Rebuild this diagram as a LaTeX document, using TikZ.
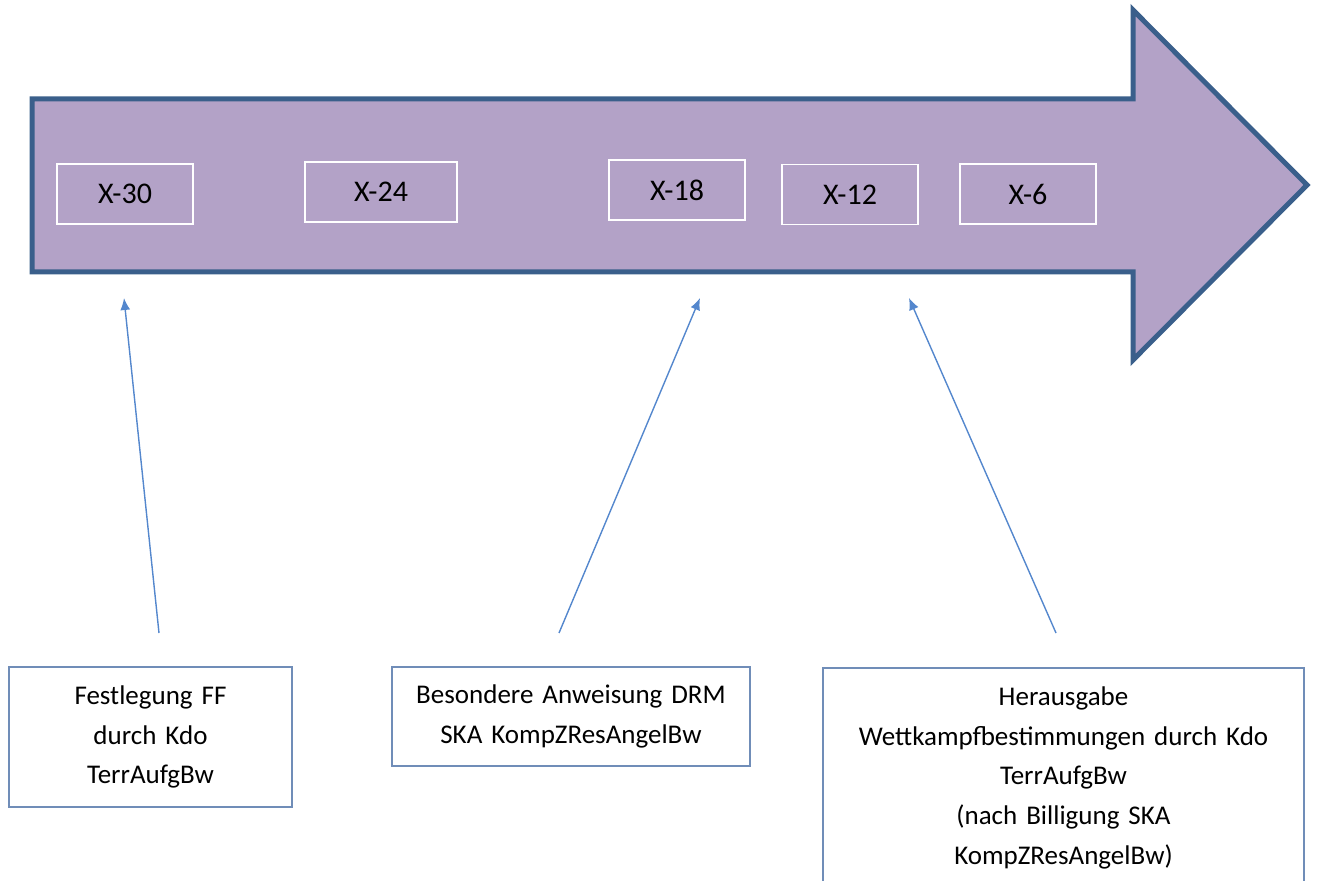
\documentclass[tikz,border=0pt]{standalone}
\usepackage{fontspec}
\setmainfont{Carlito}
\usepackage{tikz}
\usetikzlibrary{shapes,arrows,arrows.meta,positioning}

\definecolor{arrowfill}{RGB}{179,162,199}
\definecolor{arrowedge}{RGB}{58,95,139}
\definecolor{boxedge}{RGB}{112,141,184}
\definecolor{lineblue}{RGB}{84,135,205}

\begin{document}
\begin{tikzpicture}[x=0.5pt, y=-0.5pt]
    % Define block styles
    \tikzstyle{stage} = [rectangle, draw=white, line width=0.9pt, minimum width=68pt, minimum height=30pt, inner sep=0pt, font=\fontsize{15}{18}\selectfont]
    \tikzstyle{note} = [rectangle, draw=boxedge, line width=0.8pt, text centered, inner sep=0pt, font=\fontsize{13.5}{19.8}\selectfont]
    \tikzstyle{line} = [draw=lineblue, line width=0.7pt, -{Latex[length=6pt, width=5pt]}]

    \useasboundingbox (0,0) rectangle (1317,881);

    % Timeline arrow
    \draw [fill=arrowfill, draw=arrowedge, line width=2.5pt, line join=miter]
        (32,99) -- (1133,99) -- (1133,10) -- (1307,185) -- (1133,360) -- (1133,272) -- (32,272) -- cycle;

    % Nodes
    \node [stage] (X30) at (125,194) {X-30};
    \node [stage, minimum width=76pt] (X24) at (381,192) {X-24};
    \node [stage] (X18) at (677,190) {X-18};
    \node [stage] (X12) at (850,194.5) {X-12};
    \node [stage] (X6) at (1028,194) {X-6};

    \node [note, minimum width=141.5pt, minimum height=70pt, text width=140pt] (Festlegung) at (150.5,737) {Festlegung FF\\durch Kdo\\TerrAufgBw};
    \node [note, minimum width=179pt, minimum height=49.5pt, text width=177pt] (Anweisung) at (571,716.5) {Besondere Anweisung DRM\\SKA KompZResAngelBw};
    \node [note, anchor=north, minimum width=240.5pt, minimum height=110pt, text width=238pt] (Herausgabe) at (1063.5,667) {Herausgabe\\Wettkampfbestimmungen durch Kdo\\TerrAufgBw\\(nach Billigung SKA\\KompZResAngelBw)};

    % Arrow ends
    \coordinate (FestlegungTop) at (159,633);
    \coordinate (AnweisungTop) at (559,633);
    \coordinate (HerausgabeTop) at (1056,633);
    \coordinate (X30Mark) at (124,298);
    \coordinate (X18Mark) at (700,298);
    \coordinate (X12Mark) at (909,298);

    % Arrows
    \path [line] (FestlegungTop) -- (X30Mark);
    \path [line] (AnweisungTop) -- (X18Mark);
    \path [line] (HerausgabeTop) -- (X12Mark);
\end{tikzpicture}
\end{document}
